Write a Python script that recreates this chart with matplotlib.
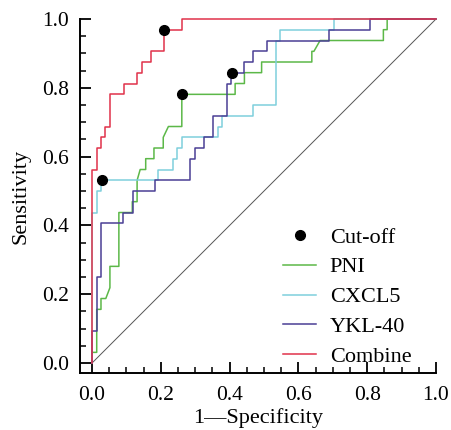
import matplotlib
matplotlib.use("Agg")
import matplotlib.pyplot as plt
from matplotlib.ticker import MultipleLocator
from matplotlib.lines import Line2D

# ROC curve vertices (1 - specificity, sensitivity)
pni_fpr = [0, 0, 0.0136, 0.0136, 0.026, 0.026, 0.040, 0.052, 0.052, 0.078, 0.078, 0.117, 0.117,
           0.131, 0.131, 0.140, 0.156, 0.156, 0.180, 0.180, 0.207, 0.207, 0.222, 0.261, 0.261,
           0.416, 0.416, 0.443, 0.443, 0.493, 0.493, 0.639, 0.639, 0.645, 0.663, 0.847, 0.847,
           0.858, 0.858, 1.0]
pni_tpr = [0, 0.031, 0.031, 0.156, 0.156, 0.1875, 0.1875, 0.219, 0.281, 0.281, 0.4375, 0.4375, 0.469,
           0.469, 0.531, 0.5625, 0.5625, 0.594, 0.594, 0.625, 0.625, 0.656, 0.6875, 0.6875, 0.781,
           0.781, 0.8125, 0.8125, 0.844, 0.844, 0.875, 0.875, 0.906, 0.906, 0.9375, 0.9375, 0.969,
           0.969, 1.0, 1.0]

cxcl5_fpr = [0, 0, 0.0136, 0.0136, 0.026, 0.026, 0.193, 0.193, 0.234, 0.234, 0.248, 0.248, 0.261,
             0.261, 0.365, 0.365, 0.377, 0.377, 0.469, 0.469, 0.534, 0.534, 0.547, 0.547, 0.703,
             0.703, 1.0]
cxcl5_tpr = [0, 0.4375, 0.4375, 0.5, 0.5, 0.531, 0.531, 0.5625, 0.5625, 0.594, 0.594, 0.625, 0.625,
             0.656, 0.656, 0.6875, 0.6875, 0.719, 0.719, 0.75, 0.75, 0.9375, 0.9375, 0.969, 0.969,
             1.0, 1.0]

ykl40_fpr = [0, 0, 0.0136, 0.0136, 0.026, 0.026, 0.089, 0.089, 0.119, 0.119, 0.182, 0.182, 0.285,
             0.285, 0.299, 0.299, 0.326, 0.326, 0.353, 0.353, 0.391, 0.391, 0.405, 0.405, 0.443,
             0.443, 0.469, 0.469, 0.508, 0.508, 0.689, 0.689, 0.808, 0.808, 1.0]
ykl40_tpr = [0, 0.094, 0.094, 0.25, 0.25, 0.406, 0.406, 0.4375, 0.4375, 0.5, 0.5, 0.531, 0.531,
             0.594, 0.594, 0.625, 0.625, 0.656, 0.656, 0.719, 0.719, 0.8125, 0.8125, 0.844, 0.844,
             0.875, 0.875, 0.906, 0.906, 0.9375, 0.9375, 0.969, 0.969, 1.0, 1.0]

combine_fpr = [0, 0, 0.0136, 0.0136, 0.026, 0.026, 0.039, 0.039, 0.053, 0.053, 0.092, 0.092, 0.131,
               0.131, 0.145, 0.145, 0.170, 0.170, 0.209, 0.209, 0.261, 0.261, 1.0]
combine_tpr = [0, 0.5625, 0.5625, 0.625, 0.625, 0.656, 0.656, 0.6875, 0.6875, 0.781, 0.781, 0.8125,
               0.8125, 0.844, 0.844, 0.875, 0.875, 0.906, 0.906, 0.969, 0.969, 1.0, 1.0]

# cut-off points
cut_fpr = [0.028, 0.261, 0.406, 0.209]
cut_tpr = [0.531, 0.781, 0.844, 0.969]

labels = ["PNI", "CXCL5", "YKL-40", "Combine"]
colors = ["#5cb848", "#7fcfdc", "#4a3f95", "#e0324a"]

plt.rcParams['font.family'] = ['Liberation Serif', 'DejaVu Serif']

fig = plt.figure(figsize=(4.51, 4.30), dpi=100)
ax = fig.add_axes([80 / 451, 57 / 430, 356 / 451, 354 / 430])

ax.plot([0, 1], [0, 1], color="#555555", lw=0.7)

curves = [(pni_fpr, pni_tpr), (cxcl5_fpr, cxcl5_tpr), (ykl40_fpr, ykl40_tpr), (combine_fpr, combine_tpr)]
for (fx, fy), c in zip(curves, colors):
    ax.plot(fx, fy, color=c, lw=1.1, clip_on=False)

ax.plot(cut_fpr, cut_tpr, 'o', color='black', ms=7, clip_on=False, zorder=5)

ax.set_xlim(-0.035, 1.0)
ax.set_ylim(-0.029, 1.0)
ax.xaxis.set_major_locator(MultipleLocator(0.2))
ax.xaxis.set_minor_locator(MultipleLocator(0.05))
ax.yaxis.set_major_locator(MultipleLocator(0.2))
ax.yaxis.set_minor_locator(MultipleLocator(0.05))
ax.xaxis.set_major_formatter(plt.FormatStrFormatter('%.1f'))
ax.yaxis.set_major_formatter(plt.FormatStrFormatter('%.1f'))

for s in ['top', 'right']:
    ax.spines[s].set_visible(False)
for s in ['left', 'bottom']:
    ax.spines[s].set_linewidth(1.4)

ax.tick_params(which='major', direction='in', length=8, width=1.3, labelsize=15.5)
ax.tick_params(which='minor', direction='in', length=4.5, width=1.1)
ax.tick_params(axis='x', which='major', pad=9.5)
ax.tick_params(axis='y', which='major', pad=8)

ax.set_xlabel("1\u2014Specificity", fontsize=16, labelpad=2)
ax.set_ylabel("Sensitivity", fontsize=16, labelpad=8)

handles = [Line2D([], [], ls='none', marker='o', color='black', ms=7)]
handles += [Line2D([], [], color=c, lw=1.1) for c in colors]
ax.legend(handles, ["Cut-off"] + labels, loc='upper left', bbox_to_anchor=(283 / 451, 1 - 227 / 430),
          bbox_transform=fig.transFigure, frameon=False, fontsize=16, borderpad=0, borderaxespad=0,
          handlelength=1.5, handletextpad=0.6, labelspacing=0.42)

fig.savefig("out.png", dpi=100)
